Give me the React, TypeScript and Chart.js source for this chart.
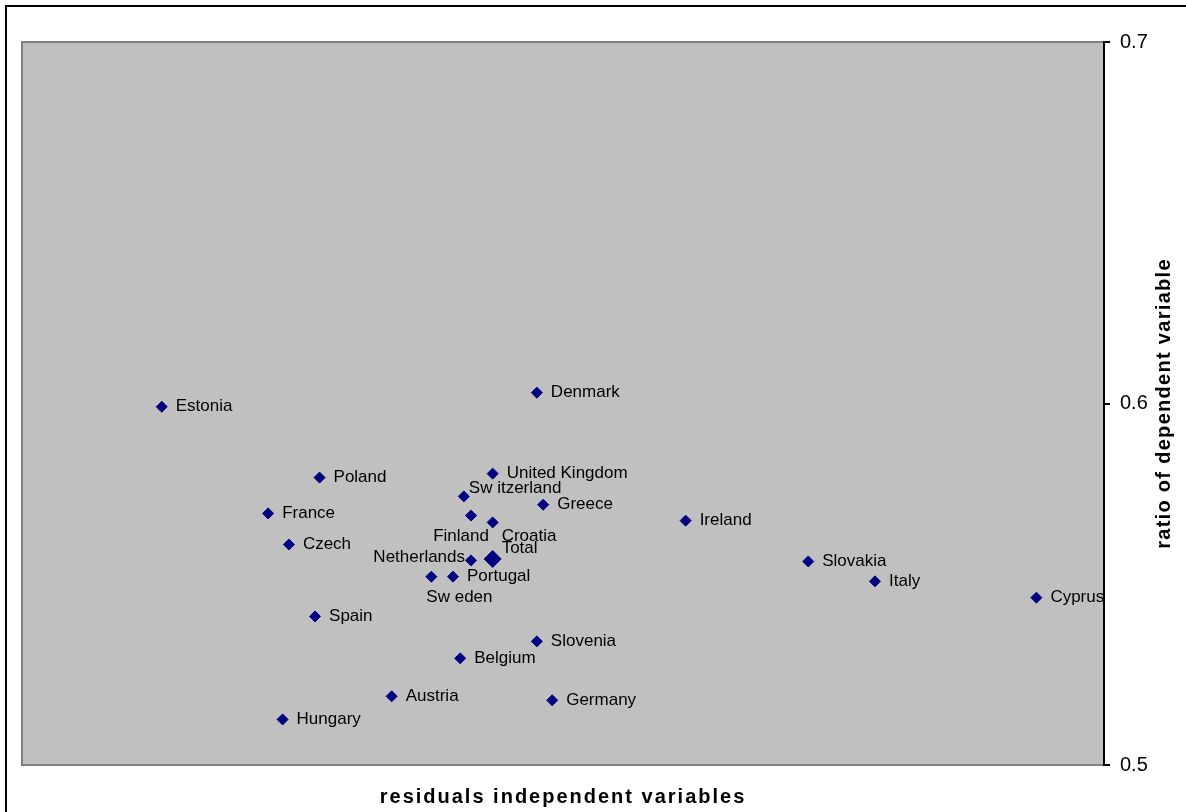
import React, { useEffect, useRef } from 'react';
import { Chart, registerables } from 'chart.js';

Chart.register(...registerables);

// ---- data ----
const countries = [
  'Estonia', 'Denmark', 'Poland', 'United Kingdom', 'Sw itzerland', 'Greece', 'France',
  'Finland', 'Croatia', 'Ireland', 'Czech', 'Netherlands', 'Slovakia', 'Sw eden',
  'Portugal', 'Italy', 'Cyprus', 'Spain', 'Slovenia', 'Belgium', 'Austria', 'Germany', 'Hungary',
];
const residuals = [
  -0.0445, -0.0029, -0.0270, -0.0078, -0.0110, -0.0022, -0.0327,
  -0.0102, -0.0078, 0.0136, -0.0304, -0.0102, 0.0272, -0.0146,
  -0.0122, 0.0346, 0.0525, -0.0275, -0.0029, -0.0114, -0.0190, -0.0012, -0.0311,
];
const ratios = [
  0.5991, 0.6030, 0.5795, 0.5806, 0.5743, 0.5720, 0.5696,
  0.5690, 0.5671, 0.5676, 0.5610, 0.5566, 0.5563, 0.5521,
  0.5521, 0.5508, 0.5463, 0.5411, 0.5342, 0.5295, 0.5190, 0.5179, 0.5126,
];
const totalLabel = 'Total';
const totalResidual = -0.0078;
const totalRatio = 0.5570;

const yTickValues = [0.5, 0.6, 0.7];
const yTickLabels = ['0.5', '0.6', '0.7'];
const xTitle = 'residuals independent variables';
const yTitle = 'ratio of dependent variable';

// ---- label placement (style, not data) ----
const defaultPlacement: [number, number, CanvasTextAlign] = [14, 0, 'left'];
const labelPlacement: Record<string, [number, number, CanvasTextAlign]> = {
  'Sw itzerland': [5, -8, 'left'],
  Finland: [-10, 21, 'center'],
  Croatia: [9, 14, 'left'],
  Total: [9, -11, 'left'],
  Netherlands: [-6, -3, 'right'],
  'Sw eden': [-5, 21, 'left'],
};

const FONT = '"Liberation Sans", Arial, Helvetica, sans-serif';

const decorPlugin = {
  id: 'decor',
  beforeDraw(chart: any) {
    const { ctx, chartArea: a } = chart;
    ctx.save();
    ctx.fillStyle = '#ffffff';
    ctx.fillRect(0, 0, chart.width, chart.height);
    ctx.strokeStyle = '#000000';
    ctx.lineWidth = 2;
    ctx.beginPath();
    ctx.moveTo(6, chart.height + 2);
    ctx.lineTo(6, 6);
    ctx.lineTo(chart.width + 2, 6);
    ctx.stroke();
    ctx.fillStyle = '#C0C0C0';
    ctx.fillRect(a.left, a.top, a.right - a.left, a.bottom - a.top);
    ctx.strokeStyle = '#808080';
    ctx.lineWidth = 2;
    ctx.strokeRect(a.left, a.top, a.right - a.left, a.bottom - a.top);
    ctx.restore();
  },
  afterDatasetsDraw(chart: any) {
    const { ctx, chartArea: a } = chart;
    ctx.save();
    ctx.beginPath();
    ctx.rect(a.left, a.top, a.right - a.left - 1, a.bottom - a.top);
    ctx.clip();
    ctx.font = `17px ${FONT}`;
    ctx.fillStyle = '#000000';
    ctx.textBaseline = 'middle';
    chart.data.datasets.forEach((ds: any, di: number) => {
      const meta = chart.getDatasetMeta(di);
      meta.data.forEach((pt: any, i: number) => {
        const name = ds.labels[i];
        const [dx, dy, align] = labelPlacement[name] || defaultPlacement;
        ctx.textAlign = align;
        ctx.fillText(name, pt.x + dx, pt.y + dy);
      });
    });
    ctx.restore();
  },
  afterDraw(chart: any) {
    const { ctx, chartArea: a } = chart;
    ctx.save();
    ctx.fillStyle = '#000000';
    ctx.font = `bold 20px ${FONT}`;
    ctx.textAlign = 'center';
    ctx.textBaseline = 'alphabetic';
    (ctx as any).letterSpacing = '2px';
    ctx.fillText(xTitle, (a.left + a.right) / 2, 803);
    (ctx as any).letterSpacing = '1.3px';
    ctx.translate(1170, (a.top + a.bottom) / 2);
    ctx.rotate(-Math.PI / 2);
    ctx.fillText(yTitle, 0, 0);
    ctx.restore();
  },
};

export default function App() {
  const ref = useRef<HTMLCanvasElement>(null);
  useEffect(() => {
    document.body.style.margin = '0';
    const chart = new Chart(ref.current as HTMLCanvasElement, {
      type: 'scatter',
      data: {
        datasets: [
          {
            data: countries.map((_, i) => ({ x: residuals[i], y: ratios[i] })),
            labels: countries,
            pointStyle: 'rectRot',
            pointRadius: 5.5,
            pointBorderWidth: 1,
            backgroundColor: '#000080',
            borderColor: '#000080',
          } as any,
          {
            data: [{ x: totalResidual, y: totalRatio }],
            labels: [totalLabel],
            pointStyle: 'rectRot',
            pointRadius: 8.5,
            pointBorderWidth: 1,
            backgroundColor: '#000080',
            borderColor: '#000080',
          } as any,
        ],
      },
      options: {
        animation: false,
        responsive: false,
        devicePixelRatio: 1,
        layout: { padding: { left: 22, top: 42, right: 0, bottom: 47 } },
        plugins: { legend: { display: false }, tooltip: { enabled: false } },
        scales: {
          x: { type: 'linear', display: false, min: -0.06, max: 0.06 },
          y: {
            type: 'linear',
            position: 'right',
            min: 0.5,
            max: 0.7,
            afterBuildTicks: (scale: any) => {
              scale.ticks = yTickValues.map((v) => ({ value: v }));
            },
            afterFit: (scale: any) => {
              scale.width = 82;
            },
            ticks: {
              callback: (_v: any, i: number) => yTickLabels[i],
              font: { size: 20, family: FONT },
              color: '#000000',
              padding: 10,
            },
            grid: { drawOnChartArea: false, tickLength: 6, color: '#000000', lineWidth: 2 },
            border: { color: '#000000', width: 2 },
          } as any,
        },
      },
      plugins: [decorPlugin],
    });
    return () => chart.destroy();
  }, []);
  return (
    <div style={{ position: 'absolute', left: 0, top: 0, width: 1186, height: 812, background: '#fff' }}>
      <canvas ref={ref} width={1186} height={812} style={{ display: 'block' }} />
    </div>
  );
}
